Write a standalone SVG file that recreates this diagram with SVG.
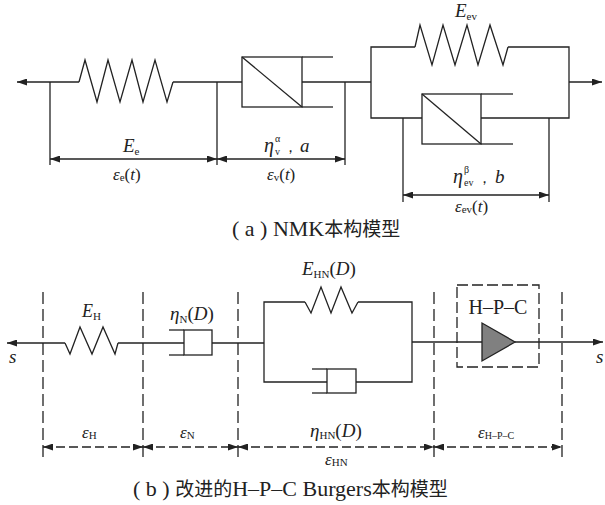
<svg xmlns="http://www.w3.org/2000/svg" width="605" height="505" viewBox="0 0 605 505">
<defs>
<style>
.ln{stroke:#222;stroke-width:1.3;fill:none}
.dv{stroke-dasharray:12 5}
.dh{stroke-dasharray:9 4}
.db{stroke-dasharray:11 4}
.t{font-family:"Liberation Serif","Times New Roman",serif;fill:#222}
.i{font-style:italic}
.cap{font-family:"Liberation Serif","Noto Sans CJK SC",serif;font-size:22px;fill:#222}
.cj{font-family:"Noto Sans CJK SC",sans-serif;font-size:19px}
</style>
<marker id="ar" viewBox="0 0 10 7" refX="10" refY="3.5" markerWidth="10" markerHeight="7" markerUnits="userSpaceOnUse" orient="auto-start-reverse">
<path d="M0,0 L10,3.5 L0,7 z" fill="#222"/>
</marker>
</defs>
<rect width="605" height="505" fill="#fff"/>

<!-- (a) NMK model -->
<g id="a-spring-Ee">
<polyline class="ln" points="79,82 85,60 97,102 108,60 120,102 132,60 143,102 155,60 167,102 173,82"/>
</g>
<g id="a-dashpot-v">
<rect class="ln" x="242" y="57" width="60" height="50"/>
<line class="ln" x1="242" y1="57" x2="302" y2="107"/>
<line class="ln" x1="302" y1="57" x2="333" y2="57"/>
<line class="ln" x1="302" y1="107" x2="333" y2="107"/>
</g>
<g id="a-kelvin">
<polyline class="ln" points="415,47 371,47 371,118 422,118"/>
<polyline class="ln" points="508,47 569,47 569,118 481,118"/>
<polyline class="ln" points="415,47 420,25 432,65 443,25 455,65 467,25 478,65 490,25 503,65 508,47"/>
<rect class="ln" x="422" y="94" width="59" height="50"/>
<line class="ln" x1="422" y1="94" x2="481" y2="144"/>
<line class="ln" x1="481" y1="94" x2="513" y2="94"/>
<line class="ln" x1="481" y1="144" x2="513" y2="144"/>
</g>
<g id="a-connectors">
<line class="ln" x1="79" y1="82" x2="17" y2="82" marker-end="url(#ar)"/>
<line class="ln" x1="173" y1="82" x2="242" y2="82"/>
<line class="ln" x1="302" y1="82" x2="371" y2="82"/>
<line class="ln" x1="569" y1="82" x2="602" y2="82" marker-end="url(#ar)"/>
<line class="ln" x1="50" y1="82" x2="50" y2="165"/>
<line class="ln" x1="217" y1="82" x2="217" y2="165"/>
<line class="ln" x1="345" y1="82" x2="345" y2="165"/>
<line class="ln" x1="403" y1="118" x2="403" y2="202"/>
<line class="ln" x1="549" y1="118" x2="549" y2="202"/>
<line class="ln" x1="50" y1="159" x2="217" y2="159" marker-start="url(#ar)" marker-end="url(#ar)"/>
<line class="ln" x1="217" y1="159" x2="345" y2="159" marker-start="url(#ar)" marker-end="url(#ar)"/>
<line class="ln" x1="403" y1="195" x2="549" y2="195" marker-start="url(#ar)" marker-end="url(#ar)"/>
</g>
<g id="a-labels">
<text class="t" x="123" y="152" font-size="19"><tspan class="i">E</tspan><tspan font-size="11" dy="3">e</tspan></text>
<text class="t" x="113" y="180" font-size="17"><tspan class="i">ε</tspan><tspan font-size="11" dy="1">e</tspan><tspan dy="-1">(</tspan><tspan class="i">t</tspan>)</text>
<text class="t i" x="264" y="152" font-size="20">η</text>
<text class="t" x="275" y="142" font-size="10">α</text>
<text class="t" x="275" y="155" font-size="10">v</text>
<text class="t" x="283" y="152" font-size="15">，</text>
<text class="t i" x="300" y="152" font-size="19">a</text>
<text class="t" x="267" y="180" font-size="17"><tspan class="i">ε</tspan><tspan font-size="11" dy="1">v</tspan><tspan dy="-1">(</tspan><tspan class="i">t</tspan>)</text>
<text class="t" x="455" y="17" font-size="19"><tspan class="i">E</tspan><tspan font-size="11" dy="3">ev</tspan></text>
<text class="t i" x="453" y="183" font-size="20">η</text>
<text class="t" x="464" y="173" font-size="10">β</text>
<text class="t" x="464" y="186" font-size="10">ev</text>
<text class="t" x="477" y="183" font-size="15">，</text>
<text class="t i" x="495" y="183" font-size="19">b</text>
<text class="t" x="455" y="212" font-size="17"><tspan class="i">ε</tspan><tspan font-size="11" dy="1">ev</tspan><tspan dy="-1">(</tspan><tspan class="i">t</tspan>)</text>
<text class="cap" x="232" y="236">( a ) NMK<tspan class="cj">本构模型</tspan></text>
</g>

<!-- (b) improved H-P-C Burgers model -->
<g id="b-spring-H">
<polyline class="ln" points="65,343 70,354 80,327 92,354 103,327 115,354 118,343"/>
</g>
<g id="b-dashpot-N">
<rect class="ln" x="184" y="330" width="28" height="25"/>
<line class="ln" x1="169" y1="330" x2="184" y2="330"/>
<line class="ln" x1="169" y1="355" x2="184" y2="355"/>
</g>
<g id="b-kelvin-HN">
<polyline class="ln" points="305,302 264,302 264,382 327,382"/>
<polyline class="ln" points="358,302 412,302 412,382 356,382"/>
<polyline class="ln" points="305,302 311,313 321,287 331,313 341,287 352,313 358,302"/>
<rect class="ln" x="327" y="369" width="29" height="24"/>
<line class="ln" x1="312" y1="369" x2="327" y2="369"/>
<line class="ln" x1="312" y1="393" x2="327" y2="393"/>
</g>
<g id="b-HPC">
<rect class="ln db" x="457" y="285" width="82" height="82"/>
<polygon points="482,323 482,361 515,342" fill="#808080" stroke="#222" stroke-width="1.3"/>
</g>
<g id="b-connectors">
<line class="ln" x1="65" y1="343" x2="7" y2="343" marker-end="url(#ar)"/>
<line class="ln" x1="118" y1="343" x2="184" y2="343"/>
<line class="ln" x1="212" y1="343" x2="264" y2="343"/>
<line class="ln" x1="412" y1="342" x2="482" y2="342"/>
<line class="ln" x1="515" y1="342" x2="603" y2="342" marker-end="url(#ar)"/>
<line class="ln dv" x1="43" y1="292" x2="43" y2="460"/>
<line class="ln dv" x1="143" y1="292" x2="143" y2="460"/>
<line class="ln dv" x1="238" y1="292" x2="238" y2="460"/>
<line class="ln dv" x1="434" y1="292" x2="434" y2="460"/>
<line class="ln dv" x1="562" y1="292" x2="562" y2="460"/>
<line class="ln dh" x1="43" y1="447" x2="143" y2="447" marker-start="url(#ar)" marker-end="url(#ar)"/>
<line class="ln dh" x1="143" y1="447" x2="238" y2="447" marker-start="url(#ar)" marker-end="url(#ar)"/>
<line class="ln dh" x1="238" y1="447" x2="434" y2="447" marker-start="url(#ar)" marker-end="url(#ar)"/>
<line class="ln dh" x1="434" y1="447" x2="562" y2="447" marker-start="url(#ar)" marker-end="url(#ar)"/>
</g>
<g id="b-labels">
<text class="t i" x="9" y="363" font-size="19">s</text>
<text class="t i" x="596" y="363" font-size="19">s</text>
<text class="t" x="82" y="317" font-size="18"><tspan class="i">E</tspan><tspan font-size="11" dy="3">H</tspan></text>
<text class="t" x="170" y="320" font-size="19"><tspan class="i">η</tspan><tspan font-size="11" dy="3">N</tspan><tspan dy="-3">(</tspan><tspan class="i">D</tspan>)</text>
<text class="t" x="302" y="275" font-size="19"><tspan class="i">E</tspan><tspan font-size="11" dy="3">HN</tspan><tspan dy="-3">(</tspan><tspan class="i">D</tspan>)</text>
<text class="t" x="498" y="314" font-size="20" text-anchor="middle">H–P–C</text>
<text class="t" x="82" y="438" font-size="17"><tspan class="i">ε</tspan><tspan font-size="11" dy="1">H</tspan></text>
<text class="t" x="180" y="438" font-size="17"><tspan class="i">ε</tspan><tspan font-size="11" dy="1">N</tspan></text>
<text class="t" x="310" y="437" font-size="19"><tspan class="i">η</tspan><tspan font-size="11" dy="2">HN</tspan><tspan dy="-2">(</tspan><tspan class="i">D</tspan>)</text>
<text class="t" x="325" y="465" font-size="17"><tspan class="i">ε</tspan><tspan font-size="11" dy="1">HN</tspan></text>
<text class="t" x="478" y="438" font-size="17"><tspan class="i">ε</tspan><tspan font-size="10" dy="1">H–P–C</tspan></text>
<text class="cap" x="133" y="496">( b ) <tspan class="cj">改进的</tspan>H–P–C Burgers<tspan class="cj">本构模型</tspan></text>
</g>
</svg>
